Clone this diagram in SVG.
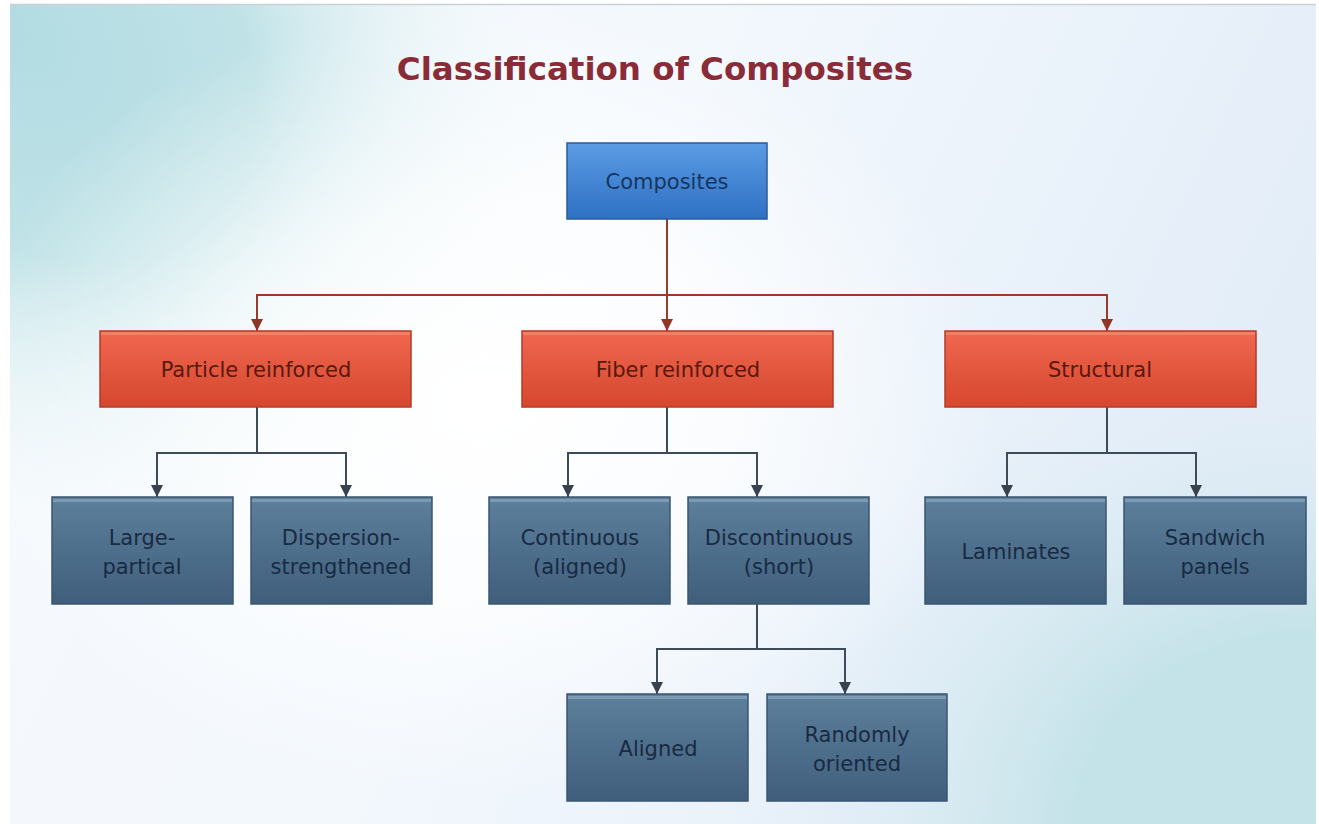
<svg xmlns="http://www.w3.org/2000/svg" width="1319" height="824" viewBox="0 0 1319 824">
<defs>
<radialGradient id="bgTL" cx="0" cy="0" r="1" gradientUnits="userSpaceOnUse" gradientTransform="translate(10 30) rotate(40) scale(700 480)">
<stop offset="0" stop-color="#b2dce2"/>
<stop offset="0.4" stop-color="#bfe2e7"/>
<stop offset="1" stop-color="#ffffff" stop-opacity="0"/>
</radialGradient>
<radialGradient id="bgBR" cx="0" cy="0" r="1" gradientUnits="userSpaceOnUse" gradientTransform="translate(1316 824) scale(600 480)">
<stop offset="0" stop-color="#c3e3e8"/>
<stop offset="0.4" stop-color="#c4e3e8"/>
<stop offset="1" stop-color="#e4eef9" stop-opacity="0"/>
</radialGradient>
<radialGradient id="bgW" cx="0" cy="0" r="1" gradientUnits="userSpaceOnUse" gradientTransform="translate(480 400) scale(520 400)">
<stop offset="0" stop-color="#ffffff"/>
<stop offset="0.5" stop-color="#ffffff" stop-opacity="0.7"/>
<stop offset="1" stop-color="#ffffff" stop-opacity="0"/>
</radialGradient>
<linearGradient id="bgBase" x1="0" y1="0" x2="1" y2="0.3">
<stop offset="0" stop-color="#f6f9fd"/>
<stop offset="0.5" stop-color="#f3f8fd"/>
<stop offset="1" stop-color="#e3edf8"/>
</linearGradient>
<linearGradient id="gBlue" x1="0" y1="0" x2="0" y2="1">
<stop offset="0" stop-color="#5b9ce3"/>
<stop offset="1" stop-color="#2e70c3"/>
</linearGradient>
<linearGradient id="gRed" x1="0" y1="0" x2="0" y2="1">
<stop offset="0" stop-color="#f0674f"/>
<stop offset="1" stop-color="#d6472f"/>
</linearGradient>
<linearGradient id="gSlate" x1="0" y1="0" x2="0" y2="1">
<stop offset="0" stop-color="#5d809d"/>
<stop offset="1" stop-color="#3f5e7b"/>
</linearGradient>
<marker id="arRed" viewBox="0 0 10 10" refX="10" refY="5" markerWidth="13" markerHeight="12" markerUnits="userSpaceOnUse" orient="auto">
<path d="M0,0 L10,5 L0,10 Z" fill="#8e3526"/>
</marker>
<marker id="arSlate" viewBox="0 0 10 10" refX="10" refY="5" markerWidth="13" markerHeight="12" markerUnits="userSpaceOnUse" orient="auto">
<path d="M0,0 L10,5 L0,10 Z" fill="#37424e"/>
</marker>
</defs>
<style>
.title{font-family:"DejaVu Sans",Verdana,sans-serif;font-weight:bold;font-size:32.5px;fill:#8a2c38;text-anchor:middle}
.lbl{font-family:"DejaVu Sans",Verdana,sans-serif;font-size:21px;text-anchor:middle}
.blue rect.b{fill:url(#gBlue);stroke:#2a5b9c;stroke-width:1.5}
.blue text{fill:#17355f}
.red rect.b{fill:url(#gRed);stroke:#b53a27;stroke-width:1.5}
.red rect.h{fill:#f68a6e;opacity:0.7}
.red text{fill:#5a1810}
.slate rect.b{fill:url(#gSlate);stroke:#3a5670;stroke-width:1.5}
.slate rect.h{fill:#8aa7bf;opacity:0.7}
.slate text{fill:#182a42}
.cr{fill:none;stroke:#9c3a2a;stroke-width:2;marker-end:url(#arRed)}
.cs{fill:none;stroke:#3d4a57;stroke-width:2;marker-end:url(#arSlate)}
.crl{fill:none;stroke:#9c3a2a;stroke-width:2}
.csl{fill:none;stroke:#3d4a57;stroke-width:2}
</style>
<rect x="0" y="0" width="1319" height="824" fill="#ffffff"/>
<g id="background">
<rect x="10" y="4" width="1306" height="820" fill="url(#bgBase)"/>
<rect x="10" y="4" width="1306" height="820" fill="url(#bgTL)"/>
<rect x="10" y="4" width="1306" height="820" fill="url(#bgBR)"/>
<rect x="10" y="4" width="1306" height="820" fill="url(#bgW)"/>
<line x1="10" y1="4.5" x2="1316" y2="4.5" stroke="#c8d2d6" stroke-width="1.5"/>
</g>
<text id="title" class="title" x="655" y="80">Classification of Composites</text>
<g id="connectors">
<path class="crl" d="M667,219 V295"/>
<path class="cr" d="M667,295 H257 V331"/>
<path class="cr" d="M667,295 V331"/>
<path class="cr" d="M667,295 H1107 V331"/>
<path class="csl" d="M257,407 V453"/>
<path class="cs" d="M257,453 H157 V497"/>
<path class="cs" d="M257,453 H346 V497"/>
<path class="csl" d="M667,407 V453"/>
<path class="cs" d="M667,453 H568 V497"/>
<path class="cs" d="M667,453 H757 V497"/>
<path class="csl" d="M1107,407 V453"/>
<path class="cs" d="M1107,453 H1007 V497"/>
<path class="cs" d="M1107,453 H1196 V497"/>
<path class="csl" d="M757,604 V649"/>
<path class="cs" d="M757,649 H657 V694"/>
<path class="cs" d="M757,649 H845 V694"/>
</g>
<g id="composites" class="blue">
<rect class="b" x="567" y="143" width="200" height="76"/>
<text class="lbl" x="667" y="189">Composites</text>
</g>
<g id="particle-reinforced" class="red">
<rect class="b" x="100" y="331" width="311" height="76"/>
<rect class="h" x="101" y="332" width="309" height="3"/>
<text class="lbl" x="256" y="377">Particle reinforced</text>
</g>
<g id="fiber-reinforced" class="red">
<rect class="b" x="522" y="331" width="311" height="76"/>
<rect class="h" x="523" y="332" width="309" height="3"/>
<text class="lbl" x="678" y="377">Fiber reinforced</text>
</g>
<g id="structural" class="red">
<rect class="b" x="945" y="331" width="311" height="76"/>
<rect class="h" x="946" y="332" width="309" height="3"/>
<text class="lbl" x="1100" y="377">Structural</text>
</g>
<g id="large-partical" class="slate">
<rect class="b" x="52" y="497" width="181" height="107"/>
<rect class="h" x="53" y="499" width="179" height="3"/>
<text class="lbl" x="142" y="545">Large-</text>
<text class="lbl" x="142" y="574">partical</text>
</g>
<g id="dispersion-strengthened" class="slate">
<rect class="b" x="251" y="497" width="181" height="107"/>
<rect class="h" x="252" y="499" width="179" height="3"/>
<text class="lbl" x="341" y="545">Dispersion-</text>
<text class="lbl" x="341" y="574">strengthened</text>
</g>
<g id="continuous" class="slate">
<rect class="b" x="489" y="497" width="181" height="107"/>
<rect class="h" x="490" y="499" width="179" height="3"/>
<text class="lbl" x="580" y="545">Continuous</text>
<text class="lbl" x="580" y="574">(aligned)</text>
</g>
<g id="discontinuous" class="slate">
<rect class="b" x="688" y="497" width="181" height="107"/>
<rect class="h" x="689" y="499" width="179" height="3"/>
<text class="lbl" x="779" y="545">Discontinuous</text>
<text class="lbl" x="779" y="574">(short)</text>
</g>
<g id="laminates" class="slate">
<rect class="b" x="925" y="497" width="181" height="107"/>
<rect class="h" x="926" y="499" width="179" height="3"/>
<text class="lbl" x="1016" y="559">Laminates</text>
</g>
<g id="sandwich-panels" class="slate">
<rect class="b" x="1124" y="497" width="182" height="107"/>
<rect class="h" x="1125" y="499" width="180" height="3"/>
<text class="lbl" x="1215" y="545">Sandwich</text>
<text class="lbl" x="1215" y="574">panels</text>
</g>
<g id="aligned" class="slate">
<rect class="b" x="567" y="694" width="181" height="107"/>
<rect class="h" x="568" y="696" width="179" height="3"/>
<text class="lbl" x="658" y="756">Aligned</text>
</g>
<g id="randomly-oriented" class="slate">
<rect class="b" x="767" y="694" width="180" height="107"/>
<rect class="h" x="768" y="696" width="178" height="3"/>
<text class="lbl" x="857" y="742">Randomly</text>
<text class="lbl" x="857" y="771">oriented</text>
</g>
</svg>
